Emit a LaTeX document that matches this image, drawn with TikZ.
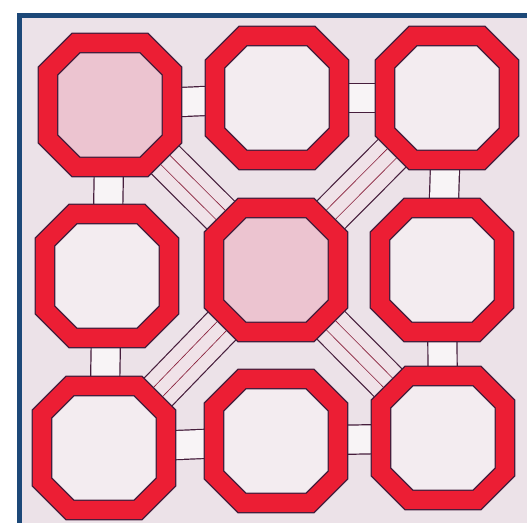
\documentclass[tikz,border=0pt]{standalone}
\usepackage{tikz}
\definecolor{ringred}{RGB}{236,30,52}
\definecolor{edge}{RGB}{70,30,60}
\definecolor{paper}{RGB}{236,226,232}
\definecolor{hole}{RGB}{243,236,240}
\definecolor{holepink}{RGB}{236,196,208}
\definecolor{linkfill}{RGB}{248,244,246}
\definecolor{diagfill}{RGB}{240,226,232}
\definecolor{frameblue}{RGB}{28,72,120}
\newcommand{\cut}{14pt}

\begin{document}
\begin{tikzpicture}[x=0.5pt,y=-0.5pt,
  cell/.style={rectangle,minimum width=62pt,minimum height=62pt,inner sep=0pt,outer sep=0pt},
  ring/.style={draw=edge,line width=0.7pt,double=ringred,double distance=9pt,line join=miter},
  link/.style={draw=edge,line width=0.6pt,double=linkfill,double distance=14pt},
  diag/.style={draw=edge,line width=0.6pt,double=diagfill,double distance=19pt,shorten <=-5pt,shorten >=-5pt},
  diagin/.style={draw=edge!60!ringred,line width=0.4pt,double=diagfill,double distance=6pt,shorten <=-5pt,shorten >=-5pt},
  frame/.style={draw=frameblue,line width=2.5pt}]
  \useasboundingbox (0,0) rectangle (527,523);
  \fill[white] (0,0) rectangle (527,523);
  \fill[paper] (20,16) rectangle (527,523);
  \draw[frame] (20,523) -- (20,16) -- (527,16);
  % cells
  \node[cell] (tl) at (110,105) {};
  \node[cell] (tm) at (277,98) {};
  \node[cell] (tr) at (447,98) {};
  \node[cell] (ml) at (107,276) {};
  \node[cell] (c)  at (276,270) {};
  \node[cell] (mr) at (442,270) {};
  \node[cell] (bl) at (104,448) {};
  \node[cell] (bm) at (276,441) {};
  \node[cell] (br) at (443,438) {};
  % outer links
  \draw[link] (tl) -- (tm);
  \draw[link] (tm) -- (tr);
  \draw[link] (tl) -- (ml);
  \draw[link] (ml) -- (bl);
  \draw[link] (tr) -- (mr);
  \draw[link] (mr) -- (br);
  \draw[link] (bl) -- (bm);
  \draw[link] (bm) -- (br);
  % diagonal links
  \draw[diag] (c) -- (tl);
  \draw[diag] (c) -- (tr);
  \draw[diag] (c) -- (bl);
  \draw[diag] (c) -- (br);
  \draw[diagin] (c) -- (tl);
  \draw[diagin] (c) -- (tr);
  \draw[diagin] (c) -- (bl);
  \draw[diagin] (c) -- (br);
  % octagon rings
  \foreach \n/\f in {tl/holepink,tm/hole,tr/hole,ml/hole,c/holepink,mr/hole,bl/hole,bm/hole,br/hole}
    \path[ring,fill=\f] ([xshift=\cut]\n.north west) -- ([xshift=-\cut]\n.north east)
      -- ([yshift=-\cut]\n.north east) -- ([yshift=\cut]\n.south east)
      -- ([xshift=-\cut]\n.south east) -- ([xshift=\cut]\n.south west)
      -- ([yshift=\cut]\n.south west) -- ([yshift=-\cut]\n.north west) -- cycle;
\end{tikzpicture}
\end{document}
